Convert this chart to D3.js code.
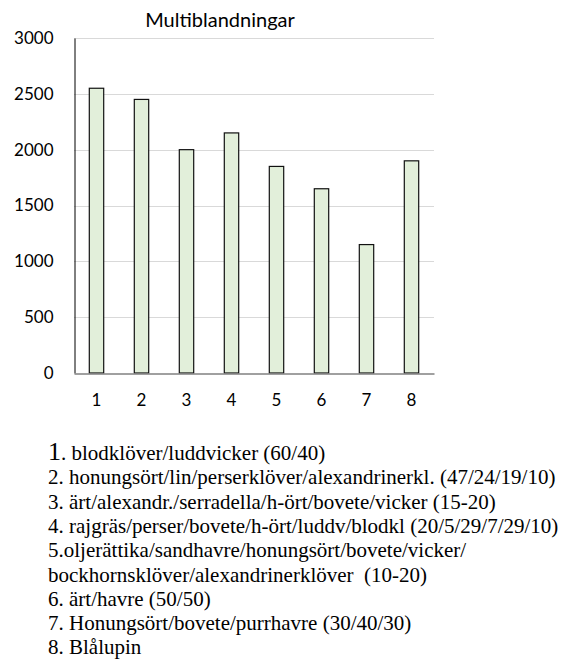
<!DOCTYPE html>
<html>
<head>
<meta charset="utf-8">
<script src="https://cdn.jsdelivr.net/npm/d3@7"></script>
<style>
  body { margin: 0; background: #fff; }
  svg { display: block; }
  .notes text { font-family: "Liberation Serif", "Times New Roman", Times, serif; font-size: 21px; white-space: pre; }
</style>
</head>
<body>
<div class="chart"></div>
<script>
// data
const categories = ["1", "2", "3", "4", "5", "6", "7", "8"];
const values = [2550, 2450, 2000, 2150, 1850, 1650, 1150, 1900];
const yTicks = [0, 500, 1000, 1500, 2000, 2500, 3000];
const title = "Multiblandningar";
const notes = [
  "1. blodklöver/luddvicker (60/40)",
  "2. honungsört/lin/perserklöver/alexandrinerkl. (47/24/19/10)",
  "3. ärt/alexandr./serradella/h-ört/bovete/vicker (15-20)",
  "4. rajgräs/perser/bovete/h-ört/luddv/blodkl (20/5/29/7/29/10)",
  "5.oljerättika/sandhavre/honungsört/bovete/vicker/",
  "bockhornsklöver/alexandrinerklöver  (10-20)",
  "6. ärt/havre (50/50)",
  "7. Honungsört/bovete/purrhavre (30/40/30)",
  "8. Blålupin",
];

let width = 568;
let height = 666;
let plot = { left: 74, right: 434, top: 38, bottom: 373 };

let svg = d3
  .select(".chart")
  .append("svg")
  .attr("width", width)
  .attr("height", height);

let xScale = d3
  .scaleBand()
  .domain(categories)
  .range([plot.left, plot.right])
  .paddingInner(0.68)
  .paddingOuter(0.34);

let yScale = d3.scaleLinear().domain([0, 3000]).range([plot.bottom, plot.top]);

// gridlines
svg
  .append("g")
  .selectAll("line")
  .data(yTicks.filter((t) => t > 0))
  .enter()
  .append("line")
  .attr("x1", plot.left)
  .attr("x2", plot.right)
  .attr("y1", (d) => Math.round(yScale(d)) + 0.5)
  .attr("y2", (d) => Math.round(yScale(d)) + 0.5)
  .attr("stroke", "#d9d9d9")
  .attr("stroke-width", 1);

// bars
svg
  .append("g")
  .selectAll("rect")
  .data(values)
  .enter()
  .append("rect")
  .attr("x", (d, i) => xScale(categories[i]))
  .attr("y", (d) => yScale(d))
  .attr("width", xScale.bandwidth())
  .attr("height", (d) => plot.bottom - yScale(d))
  .attr("fill", "#e2efda")
  .attr("stroke", "#111")
  .attr("stroke-width", 1.2);

// y axis
let yAxis = d3
  .axisLeft(yScale)
  .tickValues(yTicks)
  .tickFormat(d3.format("d"))
  .tickSize(0)
  .tickSizeOuter(0)
  .tickPadding(21);
let gy = svg
  .append("g")
  .attr("transform", `translate(${plot.left + 0.5}, 0)`)
  .call(yAxis);
gy.select(".domain").attr("stroke", "#000").attr("stroke-width", 1);
gy.selectAll("text")
  .style("font-family", "Lato, sans-serif")
  .style("font-size", "17px")
  .attr("fill", "#000");

// x axis
let xAxis = d3.axisBottom(xScale).tickSize(0).tickSizeOuter(0).tickPadding(20);
let gx = svg
  .append("g")
  .attr("transform", `translate(0, ${plot.bottom + 0.5})`)
  .call(xAxis);
gx.select(".domain").attr("stroke", "#808080").attr("stroke-width", 1.3);
gx.selectAll("text")
  .style("font-family", "Lato, sans-serif")
  .style("font-size", "17px")
  .attr("fill", "#000");

// title
svg
  .append("text")
  .attr("x", 220)
  .attr("y", 27)
  .attr("text-anchor", "middle")
  .style("font-family", "Lato, sans-serif")
  .style("font-size", "20px")
  .attr("fill", "#000")
  .text(title);

// notes below the chart
let noteText = svg
  .append("g")
  .attr("class", "notes")
  .selectAll("text")
  .data(notes)
  .enter()
  .append("text")
  .attr("x", 48)
  .attr("y", (d, i) => 460 + i * 24.3)
  .attr("fill", "#000");

noteText.each(function (d, i) {
  let t = d3.select(this);
  if (i === 0) {
    // first number is a bit bigger in the original
    t.append("tspan").style("font-size", "26px").text(d.slice(0, 1));
    t.append("tspan").text(d.slice(1));
  } else {
    t.text(d);
  }
});
</script>
</body>
</html>
